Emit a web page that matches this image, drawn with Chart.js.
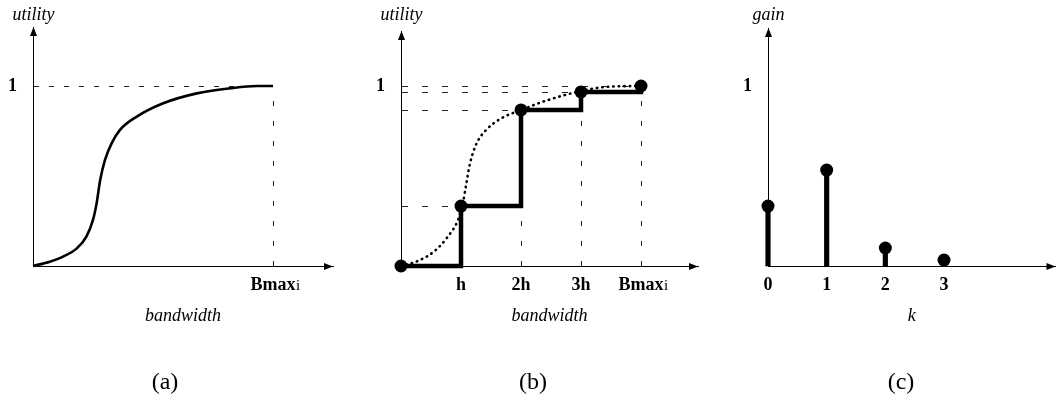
<!DOCTYPE html>
<html>
<head>
<meta charset="utf-8">
<script src="https://cdn.jsdelivr.net/npm/chart.js@4.4.1/dist/chart.umd.min.js"></script>
<style>
  body { margin: 0; background: #fff; }
  .panel { position: absolute; top: 0; width: 354px; height: 403px; }
</style>
</head>
<body>
<div class="panel" style="left:0"><canvas id="graficoUtilidad"></canvas></div>
<div class="panel" style="left:354px"><canvas id="graficoEscalones"></canvas></div>
<div class="panel" style="left:708px"><canvas id="graficoGanancia"></canvas></div>
<script>
// Utility curve, bandwidth measured in units of h (Bmax = 4h)
const curveBw   = [0, 0.28, 0.5, 0.73, 0.89, 1.0, 1.06, 1.12, 1.2, 1.31, 1.45, 1.73, 2.17, 2.73, 3.28, 3.73, 4.0];
const curveUtil = [0, 0.024, 0.052, 0.098, 0.163, 0.256, 0.348, 0.478, 0.589, 0.681, 0.756, 0.83, 0.904, 0.959, 0.987, 1.0, 1.0];

// Same curve, dotted behind the discrete steps
const dottedBw   = [0, 0.28, 0.56, 0.78, 0.95, 1.03, 1.09, 1.15, 1.26, 1.42, 1.67, 2.0, 2.45, 2.95, 3.45, 4.0];
const dottedUtil = [0, 0.028, 0.083, 0.163, 0.256, 0.348, 0.459, 0.57, 0.681, 0.756, 0.82, 0.867, 0.922, 0.968, 0.996, 1.0];

// Discrete allocation steps
const stepBw   = [0, 1, 2, 3, 4];
const stepUtil = [0, 0.333, 0.867, 0.967, 1.0];

// Marginal gain of each step
const gainK   = [0, 1, 2, 3];
const gainVal = [0.333, 0.533, 0.1, 0.033];

// Axis ticks and labels
const utilTicks  = [1];
const utilLabels = ['1'];
const bwTicksA   = [4];
const bwLabelsA  = ['Bmax'];
const bwTicksB   = [1, 2, 3, 4];
const bwLabelsB  = ['h', '2h', '3h', 'Bmax'];
const kTicks     = [0, 1, 2, 3];
const kLabels    = ['0', '1', '2', '3'];
const captions   = ['(a)', '(b)', '(c)'];

const SERIF = "'Liberation Serif', 'Times New Roman', serif";
const toXY = (xs, ys) => xs.map((x, i) => ({ x: x, y: ys[i] }));

// arrows, dashed guides, vertical axis name, caption
function decoracion(p) {
  return {
    id: 'decoracion',
    beforeDatasetsDraw(chart) {
      const { ctx, chartArea: a, scales: { x, y } } = chart;
      ctx.save();
      ctx.strokeStyle = '#222';
      ctx.lineWidth = 1;
      (p.guides || []).forEach(g => {
        const px = Math.round(x.getPixelForValue(g.x)) + 0.5;
        const py = Math.round(y.getPixelForValue(g.y)) + 0.5;
        if (g.h) {
          ctx.setLineDash(p.dashH);
          ctx.beginPath(); ctx.moveTo(a.left + 1, py); ctx.lineTo(px, py); ctx.stroke();
        }
        if (g.v) {
          ctx.setLineDash(p.dashV);
          ctx.beginPath(); ctx.moveTo(px, a.bottom); ctx.lineTo(px, py); ctx.stroke();
        }
      });
      ctx.restore();
    },
    afterDraw(chart) {
      const { ctx, chartArea: a, scales: { x } } = chart;
      const lx = Math.round(a.left) + 0.5;
      const by = Math.round(a.bottom) + 0.5;
      ctx.save();
      ctx.fillStyle = '#000';
      // arrow heads
      ctx.beginPath();
      ctx.moveTo(lx, a.top); ctx.lineTo(lx - 3.5, a.top + 9); ctx.lineTo(lx + 3.5, a.top + 9);
      ctx.closePath(); ctx.fill();
      ctx.beginPath();
      ctx.moveTo(a.right, by); ctx.lineTo(a.right - 9, by - 3.5); ctx.lineTo(a.right - 9, by + 3.5);
      ctx.closePath(); ctx.fill();
      // vertical axis name
      ctx.font = 'italic 18px ' + SERIF;
      ctx.textAlign = 'center';
      ctx.textBaseline = 'alphabetic';
      ctx.fillText(p.yName, lx, 20);
      // small i after Bmax
      if (p.subAt !== undefined) {
        ctx.font = 'bold 18px ' + SERIF;
        ctx.textBaseline = 'middle';
        const w = ctx.measureText('Bmax').width;
        const d = ctx.measureText('B').actualBoundingBoxDescent;
        const cy = a.bottom + 9 + 10.8;
        ctx.font = '15px ' + SERIF;
        ctx.textAlign = 'left';
        ctx.textBaseline = 'alphabetic';
        ctx.fillText('i', x.getPixelForValue(p.subAt) + w / 2 + 0.5, cy + d);
      }
      // caption
      ctx.font = '24px ' + SERIF;
      ctx.textAlign = 'center';
      ctx.textBaseline = 'alphabetic';
      ctx.fillText(p.caption, p.captionX, 389);
      ctx.restore();
    }
  };
}

function opciones(p) {
  const tickFont = { family: SERIF, size: 18, weight: 'bold' };
  return {
    responsive: true,
    maintainAspectRatio: false,
    animation: false,
    events: [],
    layout: { padding: { left: 0, top: p.top, right: p.right, bottom: 0 } },
    plugins: { legend: { display: false }, tooltip: { enabled: false } },
    scales: {
      x: {
        type: 'linear', min: 0, max: p.xMax, offset: false,
        grid: { display: false, drawTicks: false, offset: false },
        border: { display: true, color: '#000', width: 1 },
        afterBuildTicks: s => { s.ticks = p.xTicks.map(v => ({ value: v })); },
        ticks: {
          padding: 9, autoSkip: false, maxRotation: 0, color: '#000', font: tickFont,
          callback: (v, i) => p.xLabels[i]
        },
        title: {
          display: true, text: p.xName, color: '#000',
          padding: { top: 0, bottom: 76 },
          font: { family: SERIF, size: 18, style: 'italic' }
        },
        afterFit: s => { s.height = 137; }
      },
      y: {
        type: 'linear', min: 0, max: p.yMax,
        grid: { display: false, drawTicks: false },
        border: { display: true, color: '#000', width: 1 },
        afterBuildTicks: s => { s.ticks = utilTicks.map(v => ({ value: v })); },
        ticks: {
          padding: 16, color: '#000', font: tickFont,
          callback: (v, i) => utilLabels[i]
        },
        afterFit: s => { s.width = p.left; }
      }
    }
  };
}

// (a) continuous utility
const pA = {
  left: 33, top: 27, right: 21, xMax: 5, yMax: 239 / 180,
  xTicks: bwTicksA, xLabels: bwLabelsA, xName: 'bandwidth', yName: 'utility',
  caption: captions[0], captionX: 165, subAt: bwTicksA[0],
  dashH: [5, 10], dashV: [5, 15],
  guides: [{ x: curveBw[curveBw.length - 1], y: curveUtil[curveUtil.length - 1], h: true, v: true }]
};
new Chart(document.getElementById('graficoUtilidad'), {
  type: 'line',
  data: {
    datasets: [{
      data: toXY(curveBw, curveUtil),
      borderColor: '#000', borderWidth: 2.6, pointRadius: 0, clip: false,
      cubicInterpolationMode: 'monotone', fill: false
    }]
  },
  options: opciones(pA),
  plugins: [decoracion(pA)]
});

// (b) discrete steps over the dotted curve
const pB = {
  left: 47, top: 31, right: 10, xMax: 297 / 60, yMax: 235 / 180,
  xTicks: bwTicksB, xLabels: bwLabelsB, xName: 'bandwidth', yName: 'utility',
  caption: captions[1], captionX: 179, subAt: bwTicksB[3],
  dashH: [6, 14], dashV: [5, 15],
  guides: stepBw.slice(1).map((b, i) => ({ x: b, y: stepUtil[i + 1], h: true, v: b > 1 }))
};
new Chart(document.getElementById('graficoEscalones'), {
  type: 'line',
  data: {
    datasets: [{
      data: toXY(stepBw, stepUtil),
      stepped: 'before', clip: false,
      borderColor: '#000', borderWidth: 4.5,
      pointRadius: 6.5, pointBackgroundColor: '#000', pointBorderWidth: 0
    }, {
      data: toXY(dottedBw, dottedUtil), clip: false,
      borderColor: '#000', borderWidth: 2.6, borderDash: [0.5, 5], borderCapStyle: 'round',
      pointRadius: 0, cubicInterpolationMode: 'monotone'
    }]
  },
  options: opciones(pB),
  plugins: [decoracion(pB)]
});

// (c) gain of each step
const pC = {
  left: 60, top: 28, right: 0, xMax: 294 / 60, yMax: 238 / 180,
  xTicks: kTicks, xLabels: kLabels, xName: 'k', yName: 'gain',
  caption: captions[2], captionX: 193,
  dashH: [], dashV: [], guides: []
};
new Chart(document.getElementById('graficoGanancia'), {
  type: 'scatter',
  data: {
    datasets: [{
      data: toXY(gainK, gainVal), clip: false,
      pointRadius: 6.5, pointBackgroundColor: '#000', pointBorderWidth: 0
    }, {
      type: 'bar', clip: false,
      data: toXY(gainK, gainVal),
      backgroundColor: '#000', barThickness: 4.5, borderWidth: 0
    }]
  },
  options: opciones(pC),
  plugins: [decoracion(pC)]
});
</script>
</body>
</html>
